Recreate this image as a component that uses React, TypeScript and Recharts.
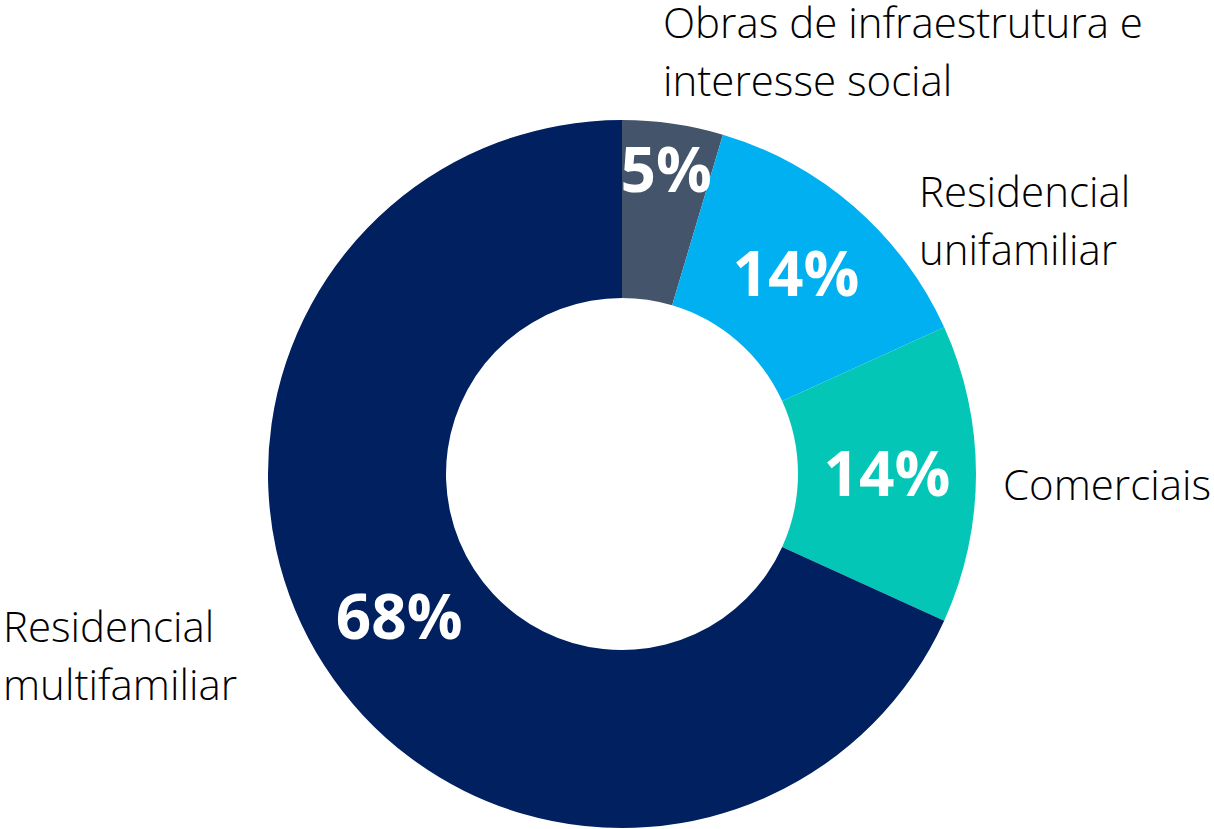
import { PieChart, Pie, Cell } from 'recharts';

const categories = [
  'Obras de infraestrutura e\ninteresse social',
  'Residencial\nunifamiliar',
  'Comerciais',
  'Residencial\nmultifamiliar',
];
const shares = [4.6, 13.6, 13.6, 68.2];
const COLORS = ['#44546A', '#00B0F0', '#03C6B6', '#002060'];

// manual name placement (left edge / first baseline, relative to the centre)
const NAME_OFFSETS = [
  [41, -436],
  [297, -267],
  [381, 26],
  [-619, 168],
];

const data = categories.map((name, i) => ({ name, value: shares[i] }));

const RAD = Math.PI / 180;

function renderLabel(props: any) {
  const { cx, cy, midAngle, innerRadius, outerRadius, percent, index, payload } = props;
  // small slice label gets pushed outward like in the original
  const r = percent < 0.08 ? outerRadius - 47 : (innerRadius + outerRadius) / 2;
  const x = cx + r * Math.cos(-midAngle * RAD);
  const y = cy + r * Math.sin(-midAngle * RAD);
  const [dx, dy] = NAME_OFFSETS[index];
  const lines = String(payload.name).split('\n');
  return (
    <g key={'lbl' + index}>
      <text x={x} y={y + 22} textAnchor="middle" fill="#ffffff" fontSize={62} fontWeight={700} fontFamily="'Open Sans', sans-serif">
        {Math.round(percent * 100)}%
      </text>
      <text x={cx + dx} y={cy + dy} fill="#000000" fontSize={42} fontWeight={300} fontFamily="'Open Sans', sans-serif">
        {lines.map((l, k) => (
          <tspan key={k} x={cx + dx} dy={k === 0 ? 0 : 58}>{l}</tspan>
        ))}
      </text>
    </g>
  );
}

export default function App() {
  return (
    <div style={{ position: 'absolute', left: 0, top: 0, background: '#fff' }}>
      <PieChart width={1214} height={829} margin={{ top: 0, right: 0, bottom: 0, left: 0 }}>
        <Pie
          data={data}
          dataKey="value"
          nameKey="name"
          cx={622}
          cy={474}
          innerRadius={176}
          outerRadius={354}
          startAngle={90}
          endAngle={-270}
          stroke="none"
          label={renderLabel}
          labelLine={false}
          isAnimationActive={false}
        >
          {data.map((e, i) => <Cell key={i} fill={COLORS[i]} />)}
        </Pie>
      </PieChart>
    </div>
  );
}
